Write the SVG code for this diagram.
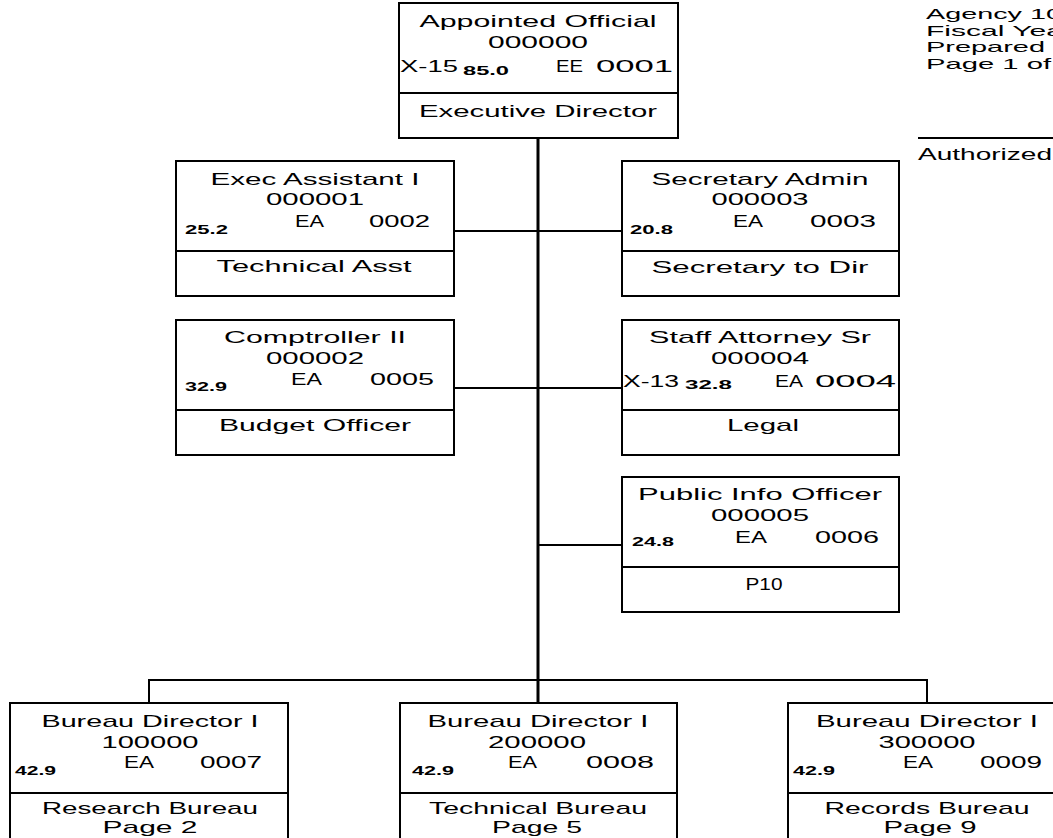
<svg xmlns="http://www.w3.org/2000/svg" width="1053" height="838" viewBox="0 0 1053 838">
<style>
.bg{fill:#fff}
.box{fill:#fff;stroke:#000;stroke-width:2}
.dv{stroke:#000;stroke-width:2}
.conn{fill:none;stroke:#000;stroke-width:2}
.trunk{fill:none;stroke:#000;stroke-width:3}
text{font-family:"Liberation Sans",Arial,sans-serif;fill:#000}
.t{font-size:17px}
.h{font-size:15px}
.c{text-anchor:middle}
.s{font-size:13px;font-weight:bold}
</style>
<rect class="bg" x="0" y="0" width="1053" height="838"/>

<g id="connectors">
  <path class="trunk" d="M538 138 V703"/>
  <path class="conn" d="M454 231 H622"/>
  <path class="conn" d="M454 388 H622"/>
  <path class="conn" d="M538 545 H622"/>
  <path class="conn" d="M149 703 V680 H927 V703"/>
</g>

<g id="header">
  <text class="h" x="926" y="19" textLength="136" lengthAdjust="spacingAndGlyphs">Agency 10</text>
  <text class="h" x="926" y="35.5" textLength="137" lengthAdjust="spacingAndGlyphs">Fiscal Yea</text>
  <text class="h" x="926" y="52" textLength="119" lengthAdjust="spacingAndGlyphs">Prepared</text>
  <text class="h" x="926" y="68.5" textLength="125" lengthAdjust="spacingAndGlyphs">Page 1 of</text>
  <line class="dv" x1="918" y1="138" x2="1053" y2="138"/>
  <text class="t" x="918" y="160" textLength="134" lengthAdjust="spacingAndGlyphs">Authorized</text>
</g>

<g id="node-appointed-official">
  <rect class="box" x="399" y="3" width="279" height="135"/>
  <line class="dv" x1="399" y1="93" x2="678" y2="93"/>
  <text class="t c" x="538" y="27" textLength="237" lengthAdjust="spacingAndGlyphs">Appointed Official</text>
  <text class="t c" x="538" y="48" textLength="100" lengthAdjust="spacingAndGlyphs">000000</text>
  <text class="t" x="400" y="72" textLength="58" lengthAdjust="spacingAndGlyphs">X-15</text>
  <text class="s" x="463" y="75" textLength="46" lengthAdjust="spacingAndGlyphs">85.0</text>
  <text class="t" x="556" y="72" textLength="27" lengthAdjust="spacingAndGlyphs">EE</text>
  <text class="t" x="596" y="72" textLength="77" lengthAdjust="spacingAndGlyphs">0001</text>
  <text class="t c" x="538" y="117" textLength="238" lengthAdjust="spacingAndGlyphs">Executive Director</text>
</g>

<g id="node-exec-assistant">
  <rect class="box" x="176" y="161" width="278" height="135"/>
  <line class="dv" x1="176" y1="251" x2="454" y2="251"/>
  <text class="t c" x="315" y="185" textLength="209" lengthAdjust="spacingAndGlyphs">Exec Assistant I</text>
  <text class="t c" x="315" y="205" textLength="98" lengthAdjust="spacingAndGlyphs">000001</text>
  <text class="s" x="185" y="234" textLength="43" lengthAdjust="spacingAndGlyphs">25.2</text>
  <text class="t" x="295" y="227" textLength="29" lengthAdjust="spacingAndGlyphs">EA</text>
  <text class="t" x="369" y="227" textLength="61" lengthAdjust="spacingAndGlyphs">0002</text>
  <text class="t c" x="314" y="272" textLength="195" lengthAdjust="spacingAndGlyphs">Technical Asst</text>
</g>

<g id="node-secretary-admin">
  <rect class="box" x="622" y="161" width="277" height="135"/>
  <line class="dv" x1="622" y1="251" x2="899" y2="251"/>
  <text class="t c" x="760" y="185" textLength="217" lengthAdjust="spacingAndGlyphs">Secretary Admin</text>
  <text class="t c" x="760" y="205" textLength="97" lengthAdjust="spacingAndGlyphs">000003</text>
  <text class="s" x="630" y="234" textLength="43" lengthAdjust="spacingAndGlyphs">20.8</text>
  <text class="t" x="733" y="227" textLength="30" lengthAdjust="spacingAndGlyphs">EA</text>
  <text class="t" x="810" y="227" textLength="66" lengthAdjust="spacingAndGlyphs">0003</text>
  <text class="t c" x="760" y="273" textLength="217" lengthAdjust="spacingAndGlyphs">Secretary to Dir</text>
</g>

<g id="node-comptroller">
  <rect class="box" x="176" y="320" width="278" height="135"/>
  <line class="dv" x1="176" y1="410" x2="454" y2="410"/>
  <text class="t c" x="315" y="343" textLength="182" lengthAdjust="spacingAndGlyphs">Comptroller II</text>
  <text class="t c" x="315" y="364" textLength="98" lengthAdjust="spacingAndGlyphs">000002</text>
  <text class="s" x="185" y="391" textLength="42" lengthAdjust="spacingAndGlyphs">32.9</text>
  <text class="t" x="291" y="385" textLength="31" lengthAdjust="spacingAndGlyphs">EA</text>
  <text class="t" x="370" y="385" textLength="64" lengthAdjust="spacingAndGlyphs">0005</text>
  <text class="t c" x="315" y="431" textLength="192" lengthAdjust="spacingAndGlyphs">Budget Officer</text>
</g>

<g id="node-staff-attorney">
  <rect class="box" x="622" y="320" width="277" height="135"/>
  <line class="dv" x1="622" y1="410" x2="899" y2="410"/>
  <text class="t c" x="760" y="343" textLength="222" lengthAdjust="spacingAndGlyphs">Staff Attorney Sr</text>
  <text class="t c" x="760" y="364" textLength="98" lengthAdjust="spacingAndGlyphs">000004</text>
  <text class="t" x="623" y="387" textLength="56" lengthAdjust="spacingAndGlyphs">X-13</text>
  <text class="s" x="685" y="389" textLength="47" lengthAdjust="spacingAndGlyphs">32.8</text>
  <text class="t" x="775" y="387" textLength="28" lengthAdjust="spacingAndGlyphs">EA</text>
  <text class="t" x="815" y="387" textLength="81" lengthAdjust="spacingAndGlyphs">0004</text>
  <text class="t c" x="763" y="431" textLength="72" lengthAdjust="spacingAndGlyphs">Legal</text>
</g>

<g id="node-public-info">
  <rect class="box" x="622" y="477" width="277" height="135"/>
  <line class="dv" x1="622" y1="567" x2="899" y2="567"/>
  <text class="t c" x="760" y="500" textLength="244" lengthAdjust="spacingAndGlyphs">Public Info Officer</text>
  <text class="t c" x="760" y="521" textLength="98" lengthAdjust="spacingAndGlyphs">000005</text>
  <text class="s" x="632" y="546" textLength="42" lengthAdjust="spacingAndGlyphs">24.8</text>
  <text class="t" x="735" y="543" textLength="32" lengthAdjust="spacingAndGlyphs">EA</text>
  <text class="t" x="815" y="543" textLength="64" lengthAdjust="spacingAndGlyphs">0006</text>
  <text class="t c" x="764" y="590" textLength="37" lengthAdjust="spacingAndGlyphs">P10</text>
</g>

<g id="node-research-bureau">
  <rect class="box" x="10" y="703" width="278" height="140"/>
  <line class="dv" x1="10" y1="793" x2="288" y2="793"/>
  <text class="t c" x="150" y="727" textLength="217" lengthAdjust="spacingAndGlyphs">Bureau Director I</text>
  <text class="t c" x="150" y="748" textLength="97" lengthAdjust="spacingAndGlyphs">100000</text>
  <text class="s" x="15" y="775" textLength="41" lengthAdjust="spacingAndGlyphs">42.9</text>
  <text class="t" x="124" y="768" textLength="30" lengthAdjust="spacingAndGlyphs">EA</text>
  <text class="t" x="200" y="768" textLength="62" lengthAdjust="spacingAndGlyphs">0007</text>
  <text class="t c" x="150" y="814" textLength="216" lengthAdjust="spacingAndGlyphs">Research Bureau</text>
  <text class="t c" x="150" y="833" textLength="95" lengthAdjust="spacingAndGlyphs">Page 2</text>
</g>

<g id="node-technical-bureau">
  <rect class="box" x="400" y="703" width="277" height="140"/>
  <line class="dv" x1="400" y1="793" x2="677" y2="793"/>
  <text class="t c" x="538" y="727" textLength="221" lengthAdjust="spacingAndGlyphs">Bureau Director I</text>
  <text class="t c" x="537" y="748" textLength="98" lengthAdjust="spacingAndGlyphs">200000</text>
  <text class="s" x="412" y="775" textLength="42" lengthAdjust="spacingAndGlyphs">42.9</text>
  <text class="t" x="508" y="768" textLength="29" lengthAdjust="spacingAndGlyphs">EA</text>
  <text class="t" x="586" y="768" textLength="68" lengthAdjust="spacingAndGlyphs">0008</text>
  <text class="t c" x="538" y="814" textLength="218" lengthAdjust="spacingAndGlyphs">Technical Bureau</text>
  <text class="t c" x="537" y="833" textLength="90" lengthAdjust="spacingAndGlyphs">Page 5</text>
</g>

<g id="node-records-bureau">
  <rect class="box" x="788" y="703" width="278" height="140"/>
  <line class="dv" x1="788" y1="793" x2="1066" y2="793"/>
  <text class="t c" x="927" y="727" textLength="222" lengthAdjust="spacingAndGlyphs">Bureau Director I</text>
  <text class="t c" x="927" y="748" textLength="97" lengthAdjust="spacingAndGlyphs">300000</text>
  <text class="s" x="793" y="775" textLength="42" lengthAdjust="spacingAndGlyphs">42.9</text>
  <text class="t" x="903" y="768" textLength="30" lengthAdjust="spacingAndGlyphs">EA</text>
  <text class="t" x="980" y="768" textLength="62" lengthAdjust="spacingAndGlyphs">0009</text>
  <text class="t c" x="927" y="814" textLength="205" lengthAdjust="spacingAndGlyphs">Records Bureau</text>
  <text class="t c" x="930" y="833" textLength="93" lengthAdjust="spacingAndGlyphs">Page 9</text>
</g>
</svg>
